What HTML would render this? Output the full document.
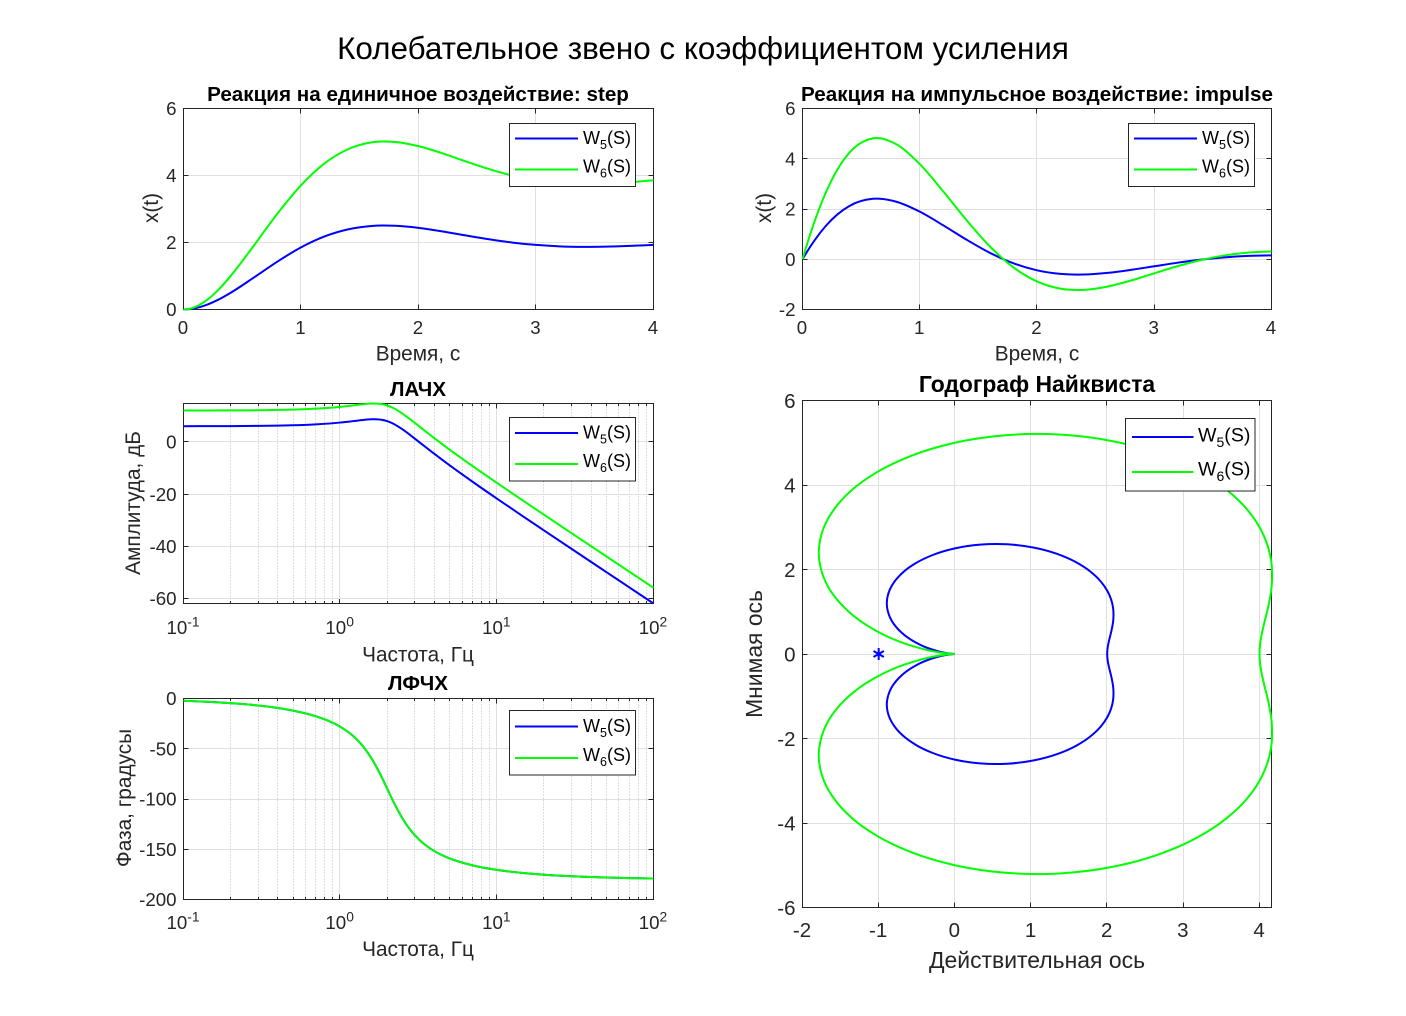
<!DOCTYPE html>
<html lang="ru">
<head>
<meta charset="utf-8">
<title>Колебательное звено с коэффициентом усиления</title>
<style>
html,body{margin:0;padding:0;background:#fff;width:1406px;height:1016px;overflow:hidden}
svg{display:block}
text{font-family:"Liberation Sans",Arial,sans-serif}
.tt{font-size:20.65px;font-weight:bold;fill:#000;text-anchor:middle}
.lb{font-size:20.8px;fill:#262626;text-anchor:middle}
.lg{font-size:18px;fill:#000}
.lgb{font-size:19.6px;fill:#000}
.box{fill:#fff;stroke:#262626;stroke-width:1}
</style>
</head>
<body>
<svg id="figure" xmlns="http://www.w3.org/2000/svg" width="1406" height="1016" viewBox="0 0 1406 1016">
<rect width="1406" height="1016" fill="#fff"/>
<text x="703" y="59" text-anchor="middle" font-size="31.4" fill="#000">Колебательное звено с коэффициентом усиления</text>
<g id="plots"></g>

<text class="tt" x="418" y="101">Реакция на единичное воздействие: step</text>
<text class="lb" x="418" y="360.5">Время, с</text>
<text class="lb" transform="translate(158,208) rotate(-90)">x(t)</text>

<text class="tt" x="1037" y="101">Реакция на импульсное воздействие: impulse</text>
<text class="lb" x="1037" y="360.5">Время, с</text>
<text class="lb" transform="translate(771,208) rotate(-90)">x(t)</text>

<text class="tt" x="418" y="396">ЛАЧХ</text>
<text class="lb" x="418" y="661.5">Частота, Гц</text>
<text class="lb" transform="translate(140,503) rotate(-90)">Амплитуда, дБ</text>

<text class="tt" x="418" y="690">ЛФЧХ</text>
<text class="lb" x="418" y="956">Частота, Гц</text>
<text class="lb" transform="translate(131,798) rotate(-90)">Фаза, градусы</text>

<text class="tt" style="font-size:22.9px" x="1037" y="392">Годограф Найквиста</text>
<text class="lb" style="font-size:22.95px" x="1037" y="968">Действительная ось</text>
<text class="lb" style="font-size:22.9px" transform="translate(762,654) rotate(-90)">Мнимая ось</text>

<g>
<rect class="box" x="509.5" y="123.5" width="126" height="63"/>
<line x1="515" x2="578" y1="138.5" y2="138.5" stroke="#00f" stroke-width="2"/>
<line x1="515" x2="578" y1="169.5" y2="169.5" stroke="#0f0" stroke-width="2"/>
<text class="lg" x="583" y="144">W<tspan font-size="12.5" dy="5">5</tspan><tspan dy="-5">(S)</tspan></text>
<text class="lg" x="583" y="172.5">W<tspan font-size="12.5" dy="5">6</tspan><tspan dy="-5">(S)</tspan></text>
</g>

<g>
<rect class="box" x="1128.5" y="123.5" width="126" height="63"/>
<line x1="1134" x2="1197" y1="138.5" y2="138.5" stroke="#00f" stroke-width="2"/>
<line x1="1134" x2="1197" y1="169.5" y2="169.5" stroke="#0f0" stroke-width="2"/>
<text class="lg" x="1202" y="144">W<tspan font-size="12.5" dy="5">5</tspan><tspan dy="-5">(S)</tspan></text>
<text class="lg" x="1202" y="172.5">W<tspan font-size="12.5" dy="5">6</tspan><tspan dy="-5">(S)</tspan></text>
</g>

<g>
<rect class="box" x="509.5" y="417.5" width="126" height="63.5"/>
<line x1="515" x2="578" y1="433" y2="433" stroke="#00f" stroke-width="2"/>
<line x1="515" x2="578" y1="464" y2="464" stroke="#0f0" stroke-width="2"/>
<text class="lg" x="583" y="438.5">W<tspan font-size="12.5" dy="5">5</tspan><tspan dy="-5">(S)</tspan></text>
<text class="lg" x="583" y="467">W<tspan font-size="12.5" dy="5">6</tspan><tspan dy="-5">(S)</tspan></text>
</g>

<g>
<rect class="box" x="509.5" y="710.5" width="126" height="64.5"/>
<line x1="515" x2="578" y1="726.5" y2="726.5" stroke="#00f" stroke-width="2"/>
<line x1="515" x2="578" y1="758" y2="758" stroke="#0f0" stroke-width="2"/>
<text class="lg" x="583" y="732">W<tspan font-size="12.5" dy="5">5</tspan><tspan dy="-5">(S)</tspan></text>
<text class="lg" x="583" y="761">W<tspan font-size="12.5" dy="5">6</tspan><tspan dy="-5">(S)</tspan></text>
</g>

<g>
<rect class="box" x="1125.5" y="418.5" width="129.5" height="72.5"/>
<line x1="1132" x2="1193.5" y1="437" y2="437" stroke="#00f" stroke-width="2"/>
<line x1="1132" x2="1193.5" y1="472" y2="472" stroke="#0f0" stroke-width="2"/>
<text class="lgb" x="1198" y="441.5">W<tspan font-size="14" dy="5.5">5</tspan><tspan dy="-5.5">(S)</tspan></text>
<text class="lgb" x="1198" y="475.5">W<tspan font-size="14" dy="5.5">6</tspan><tspan dy="-5.5">(S)</tspan></text>
</g>
</svg>

<script>
// ---------- chart data ----------
const timeValues = [0,0.05,0.1,0.2,0.3,0.4,0.6,0.8,1.0,1.2,1.4,1.6,1.8,2.0,2.2,2.4,2.6,2.8,3.0,3.2,3.4,3.6,3.8,4.0];
const stepW5 = [0,0.010,0.038,0.143,0.300,0.497,0.957,1.432,1.854,2.180,2.392,2.494,2.500,2.438,2.333,2.212,2.096,1.998,1.928,1.886,1.871,1.878,1.899,1.928];
const stepW6 = [0,0.019,0.076,0.285,0.600,0.994,1.914,2.865,3.708,4.360,4.784,4.988,5.001,4.876,4.666,4.424,4.191,3.996,3.855,3.772,3.743,3.756,3.799,3.857];
const impulseW5 = [0,0.384,0.734,1.333,1.794,2.121,2.406,2.289,1.894,1.351,0.776,0.251,-0.163,-0.441,-0.584,-0.609,-0.544,-0.424,-0.280,-0.137,-0.015,0.076,0.132,0.154];
const impulseW6 = [0,0.768,1.468,2.666,3.588,4.242,4.812,4.577,3.788,2.703,1.551,0.502,-0.326,-0.882,-1.168,-1.217,-1.088,-0.849,-0.559,-0.274,-0.029,0.152,0.263,0.308];

const frequencies = [0.1,0.15,0.2,0.3,0.4,0.5,0.7,1,1.2,1.4,1.6,1.8,2,2.2,2.5,2.8,3.2,4,5,7,10,15,20,30,50,70,100];
const magnitudeW5 = [6.035,6.053,6.079,6.153,6.256,6.387,6.734,7.432,7.958,8.433,8.703,8.581,7.958,6.890,4.826,2.643,-0.078,-4.61,-8.97,-15.26,-21.70,-28.88,-33.92,-41.00,-49.89,-55.74,-61.94];
const magnitudeW6 = [12.055,12.073,12.099,12.173,12.276,12.407,12.754,13.452,13.978,14.453,14.723,14.601,13.978,12.910,10.846,8.663,5.942,1.41,-2.95,-9.24,-15.68,-22.86,-27.90,-34.98,-43.87,-49.72,-55.92];
const phaseW5 = [-2.30,-3.45,-4.62,-7.0,-9.46,-12.04,-17.70,-28.07,-36.87,-47.67,-60.64,-75.22,-90,-103.42,-119.36,-130.60,-140.63,-151.93,-159.15,-166.02,-170.54,-173.80,-175.38,-176.93,-178.16,-178.69,-179.08];
const phaseW6 = [-2.30,-3.45,-4.62,-7.0,-9.46,-12.04,-17.70,-28.07,-36.87,-47.67,-60.64,-75.22,-90,-103.42,-119.36,-130.60,-140.63,-151.93,-159.15,-166.02,-170.54,-173.80,-175.38,-176.93,-178.16,-178.69,-179.08];

const nyquistReW5 = [2,2.007,2.027,2.055,2.079,2.076,2.051,2.0,1.913,1.778,1.587,1.335,1.029,0.685,0.332,0,-0.286,-0.513,-0.679,-0.789,-0.855,-0.886,-0.893,-0.882,-0.833,-0.766,-0.697,-0.632,-0.519,-0.412,-0.333,-0.229,-0.128,-0.056,-0.020,0];
const nyquistImW5 = [0,0.162,0.338,0.542,0.792,1.107,1.294,1.5,1.722,1.952,2.176,2.374,2.521,2.597,2.589,2.5,2.346,2.150,1.936,1.722,1.519,1.335,1.172,1.029,0.799,0.629,0.502,0.406,0.277,0.182,0.127,0.069,0.027,0.008,0.002,0];
const nyquistReW6 = [4,4.014,4.054,4.110,4.158,4.152,4.102,4.0,3.826,3.556,3.174,2.670,2.058,1.370,0.664,0,-0.572,-1.026,-1.358,-1.578,-1.710,-1.772,-1.786,-1.764,-1.666,-1.532,-1.394,-1.264,-1.038,-0.824,-0.666,-0.458,-0.256,-0.112,-0.040,0];
const nyquistImW6 = [0,0.324,0.676,1.084,1.584,2.214,2.588,3.0,3.444,3.904,4.352,4.748,5.042,5.194,5.178,5.0,4.692,4.300,3.872,3.444,3.038,2.670,2.344,2.058,1.598,1.258,1.004,0.812,0.554,0.364,0.254,0.138,0.054,0.016,0.004,0];
const criticalPointRe = [-1];
const criticalPointIm = [0];

const timeTicks = [0,1,2,3,4];
const stepYTicks = [0,2,4,6];
const impulseYTicks = [-2,0,2,4,6];
const magnitudeYTicks = [-60,-40,-20,0];
const phaseYTicks = [-200,-150,-100,-50,0];
const frequencyExponents = [-1,0,1,2];
const nyquistXTicks = [-2,-1,0,1,2,3,4];
const nyquistYTicks = [-6,-4,-2,0,2,4,6];

// ---------- drawing ----------
const NS = 'http://www.w3.org/2000/svg';
const plots = document.getElementById('plots');

function make(parent, tag, attrs, name) {
  const el = document.createElementNS(NS, tag);
  for (const k in attrs) el.setAttribute(k, attrs[k]);
  
  
  parent.appendChild(el);
  return el;
}

// Smooth path through the given pixel points; t is the curve parameter.
function smoothPath(xs, ys, t) {
  const n = xs.length;
  function slopes(p) {
    const m = new Array(n);
    for (let i = 1; i < n - 1; i++) {
      const h0 = t[i] - t[i-1], h1 = t[i+1] - t[i];
      const d0 = (p[i] - p[i-1]) / h0, d1 = (p[i+1] - p[i]) / h1;
      m[i] = (h1 * d0 + h0 * d1) / (h0 + h1);
    }
    m[0] = 1.5 * (p[1] - p[0]) / (t[1] - t[0]) - 0.5 * m[1];
    m[n-1] = 1.5 * (p[n-1] - p[n-2]) / (t[n-1] - t[n-2]) - 0.5 * m[n-2];
    return m;
  }
  const mx = slopes(xs), my = slopes(ys);
  let d = 'M' + xs[0].toFixed(2) + ' ' + ys[0].toFixed(2);
  for (let i = 0; i < n - 1; i++) {
    const h = t[i+1] - t[i];
    d += 'C' + (xs[i] + mx[i]*h/3).toFixed(2) + ' ' + (ys[i] + my[i]*h/3).toFixed(2) + ' ' +
         (xs[i+1] - mx[i+1]*h/3).toFixed(2) + ' ' + (ys[i+1] - my[i+1]*h/3).toFixed(2) + ' ' +
         xs[i+1].toFixed(2) + ' ' + ys[i+1].toFixed(2);
  }
  return d;
}

function makeAxes(o) {
  const g = make(plots, 'g', {}, o.name + '-axes');
  const logX = !!o.logX;
  const sx = logX
    ? v => o.left + (Math.log10(v) - o.xlim[0]) / (o.xlim[1] - o.xlim[0]) * (o.right - o.left)
    : v => o.left + (v - o.xlim[0]) / (o.xlim[1] - o.xlim[0]) * (o.right - o.left);
  const sy = v => o.bottom - (v - o.ylim[0]) / (o.ylim[1] - o.ylim[0]) * (o.bottom - o.top);
  const grid = '#e0e0e0', dark = '#262626', tickLen = 5;
  const fs = o.fontSize;

  if (logX) {
    for (let e = o.xlim[0]; e < o.xlim[1]; e++) {
      for (let k = 2; k <= 9; k++) {
        const x = Math.round(sx(k * Math.pow(10, e)) - 0.5) + 0.5;
        make(g, 'line', {x1:x,x2:x,y1:o.top,y2:o.bottom,stroke:'#bdbdbd','stroke-width':1,'stroke-dasharray':'1 2'}, o.name + '-minor-grid-line');
        make(g, 'line', {x1:x,x2:x,y1:o.bottom,y2:o.bottom-2.5,stroke:dark,'stroke-width':1}, o.name + '-minor-tick');
        make(g, 'line', {x1:x,x2:x,y1:o.top,y2:o.top+2.5,stroke:dark,'stroke-width':1}, o.name + '-minor-tick');
      }
    }
  }
  const xVals = logX ? o.xTicks.map(e => Math.pow(10, e)) : o.xTicks;
  xVals.forEach((v, i) => {
    const x = Math.round(sx(v) - 0.75) + 0.5;
    make(g, 'line', {x1:x,x2:x,y1:o.top,y2:o.bottom,stroke:grid,'stroke-width':1}, o.name + '-x-grid-line');
    make(g, 'line', {x1:x,x2:x,y1:o.bottom,y2:o.bottom-tickLen,stroke:dark,'stroke-width':1}, o.name + '-x-tick');
    make(g, 'line', {x1:x,x2:x,y1:o.top,y2:o.top+tickLen,stroke:dark,'stroke-width':1}, o.name + '-x-tick');
    const lab = make(g, 'text', {x:sx(v) - 0.5,y:o.xLabelY,'text-anchor':'middle','font-size':fs,fill:dark}, o.name + '-x-tick-label');
    if (logX) {
      lab.appendChild(document.createTextNode('10'));
      const sup = make(lab, 'tspan', {'font-size':fs * 0.74,dy:-7.5}, o.name + '-x-tick-exponent');
      sup.textContent = String(o.xTicks[i]);
    } else {
      lab.textContent = String(v);
    }
  });
  o.yTicks.forEach(v => {
    const y = Math.round(sy(v) - 0.5) + 0.5;
    make(g, 'line', {x1:o.left,x2:o.right,y1:y,y2:y,stroke:grid,'stroke-width':1}, o.name + '-y-grid-line');
    make(g, 'line', {x1:o.left,x2:o.left+tickLen,y1:y,y2:y,stroke:dark,'stroke-width':1}, o.name + '-y-tick');
    make(g, 'line', {x1:o.right,x2:o.right-tickLen,y1:y,y2:y,stroke:dark,'stroke-width':1}, o.name + '-y-tick');
    const lab = make(g, 'text', {x:o.left - 7,y:sy(v) + fs * 0.36,'text-anchor':'end','font-size':fs,fill:dark}, o.name + '-y-tick-label');
    lab.textContent = String(v);
  });
  make(g, 'rect', {x:o.left,y:o.top,width:o.right-o.left,height:o.bottom-o.top,fill:'none',stroke:dark,'stroke-width':1}, o.name + '-axes-box');
  return {g, sx, sy, logX};
}

function drawSeries(ax, xv, yv, color, name) {
  const xs = xv.map(ax.sx), ys = yv.map(ax.sy);
  const t = ax.logX ? xv.map(v => Math.log10(v)) : xv;
  make(ax.g, 'path', {d:smoothPath(xs, ys, t),fill:'none',stroke:color,'stroke-width':2,'stroke-linejoin':'round'}, name);
}

function drawNyquist(ax, re, im, color, name) {
  // conjugate-symmetric: negative frequencies first, then positive ones
  const r = re.slice(1).reverse().concat(re);
  const q = im.slice(1).reverse().map(v => -v).concat(im);
  const xs = r.map(ax.sx), ys = q.map(ax.sy);
  const t = [0];
  for (let i = 1; i < xs.length; i++) t.push(t[i-1] + Math.max(Math.hypot(xs[i]-xs[i-1], ys[i]-ys[i-1]), 0.01));
  make(ax.g, 'path', {d:smoothPath(xs, ys, t),fill:'none',stroke:color,'stroke-width':2,'stroke-linejoin':'round'}, name);
}

const stepAxes = makeAxes({name:'step',left:183.5,right:653.5,top:108.5,bottom:309.5,xlim:[0,4],ylim:[0,6],xTicks:timeTicks,yTicks:stepYTicks,xLabelY:334,fontSize:18.7});
drawSeries(stepAxes, timeValues, stepW5, '#00f', 'step-line-w5');
drawSeries(stepAxes, timeValues, stepW6, '#0f0', 'step-line-w6');

const impulseAxes = makeAxes({name:'impulse',left:802.5,right:1271.5,top:108.5,bottom:309.5,xlim:[0,4],ylim:[-2,6],xTicks:timeTicks,yTicks:impulseYTicks,xLabelY:334,fontSize:18.7});
drawSeries(impulseAxes, timeValues, impulseW5, '#00f', 'impulse-line-w5');
drawSeries(impulseAxes, timeValues, impulseW6, '#0f0', 'impulse-line-w6');

const magnitudeAxes = makeAxes({name:'magnitude',logX:true,left:183.5,right:653.5,top:403.5,bottom:603.5,xlim:[-1,2],ylim:[-61.94,14.74],xTicks:frequencyExponents,yTicks:magnitudeYTicks,xLabelY:634,fontSize:18.7});
drawSeries(magnitudeAxes, frequencies, magnitudeW5, '#00f', 'magnitude-line-w5');
drawSeries(magnitudeAxes, frequencies, magnitudeW6, '#0f0', 'magnitude-line-w6');

const phaseAxes = makeAxes({name:'phase',logX:true,left:183.5,right:653.5,top:698.5,bottom:899.5,xlim:[-1,2],ylim:[-200,0],xTicks:frequencyExponents,yTicks:phaseYTicks,xLabelY:929,fontSize:18.7});
drawSeries(phaseAxes, frequencies, phaseW5, '#00f', 'phase-line-w5');
drawSeries(phaseAxes, frequencies, phaseW6, '#0f0', 'phase-line-w6');

const nyquistAxes = makeAxes({name:'nyquist',left:802.5,right:1271.5,top:400.5,bottom:907.5,xlim:[-2,4.157],ylim:[-6,6],xTicks:nyquistXTicks,yTicks:nyquistYTicks,xLabelY:937,fontSize:20.5});
drawNyquist(nyquistAxes, nyquistReW5, nyquistImW5, '#00f', 'nyquist-line-w5');
drawNyquist(nyquistAxes, nyquistReW6, nyquistImW6, '#0f0', 'nyquist-line-w6');

criticalPointRe.forEach((re, i) => {
  const cx = nyquistAxes.sx(re), cy = nyquistAxes.sy(criticalPointIm[i]);
  const star = make(nyquistAxes.g, 'g', {stroke:'#00f','stroke-width':2}, 'critical-point-marker');
  [[0,6],[5.2,3],[5.2,-3]].forEach(a => {
    make(star, 'line', {x1:cx-a[0],y1:cy-a[1],x2:cx+a[0],y2:cy+a[1]}, 'critical-point-marker-arm');
  });
});
</script>
</body>
</html>
